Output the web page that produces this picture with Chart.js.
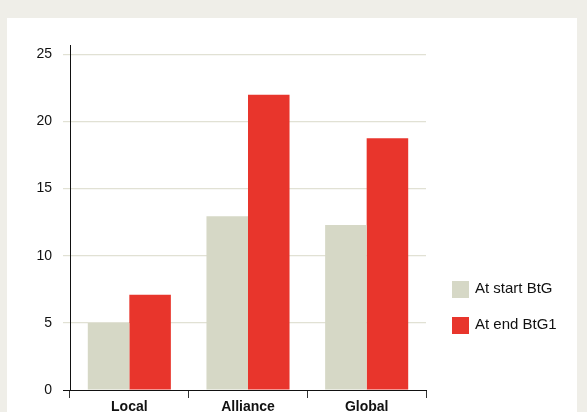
<!DOCTYPE html>
<html>
<head>
<meta charset="utf-8">
<script src="https://cdn.jsdelivr.net/npm/chart.js@4"></script>
<style>
  html, body { margin: 0; padding: 0; }
  body { width: 587px; height: 412px; background: #efeee8; position: relative; overflow: hidden;
         font-family: "Liberation Sans", Arial, sans-serif; }
  #panel { position: absolute; left: 7px; top: 18px; width: 570px; height: 394px; background: #fff; }
  #wrap { position: absolute; left: 0; top: 0; width: 587px; height: 412px; }
  .legend { position: absolute; left: 452px; font-size: 15px; color: #111; }
  .legend span { display: inline-block; width: 17px; height: 17px; vertical-align: middle; margin-right: 6px; }
  .legend div { height: 17px; line-height: 17px; margin-bottom: 19px; white-space: nowrap; }
</style>
</head>
<body>
<div id="panel"></div>
<div id="wrap"><canvas id="chart" width="587" height="412"></canvas></div>
<div class="legend" id="legend" style="top:279px"></div>
<script>
// Catégories et séries
const categories = ["Local", "Alliance", "Global"];
const seriesNames = ["At start BtG", "At end BtG1"];
const startValues = [5.0, 12.95, 12.3];
const endValues = [7.1, 22.0, 18.75];
const yTicks = [0, 5, 10, 15, 20, 25];

const colors = ["#d6d8c6", "#e8352c"];
const font = "'Liberation Sans', Arial, sans-serif";

const chart = new Chart(document.getElementById("chart"), {
    type: "bar",
    data: {
        labels: categories,
        datasets: [
            { label: seriesNames[0], data: startValues, backgroundColor: colors[0] },
            { label: seriesNames[1], data: endValues, backgroundColor: colors[1] },
        ],
    },
    options: {
        responsive: false,
        animation: false,
        layout: { padding: { top: 45, right: 161, left: 0, bottom: 0 } },
        datasets: { bar: { categoryPercentage: 0.7, barPercentage: 1 } },
        plugins: { legend: { display: false }, tooltip: { enabled: false } },
        scales: {
            x: {
                grid: { offset: true, drawOnChartArea: false, color: "#333", tickLength: 8 },
                border: { color: "#111" },
                ticks: { color: "#111", padding: 1, font: { family: font, size: 14, weight: "bold" } },
                afterFit: (s) => { s.height = 22; },
            },
            y: {
                min: 0,
                max: 25.7,
                z: 1,
                afterBuildTicks: (s) => { s.ticks = yTicks.map((v) => ({ value: v })); },
                grid: {
                    // ligne du zéro en noir, les autres en gris olive
                    color: (ctx) => (ctx.tick && ctx.tick.value === 0 ? "#111" : "rgba(120,120,60,0.22)"),
                    lineWidth: (ctx) => (ctx.tick && ctx.tick.value === 0 ? 1 : 1.2),
                    tickLength: 7,
                },
                border: { color: "#111" },
                ticks: { color: "#111", padding: 11, font: { family: font, size: 14 } },
                afterFit: (s) => { s.width = 70; },
            },
        },
    },
});

// Légende à droite
const legend = document.getElementById("legend");
seriesNames.forEach((name, i) => {
    const row = document.createElement("div");
    row.innerHTML = `<span style="background:${colors[i]}"></span>${name}`;
    legend.appendChild(row);
});
</script>
</body>
</html>
